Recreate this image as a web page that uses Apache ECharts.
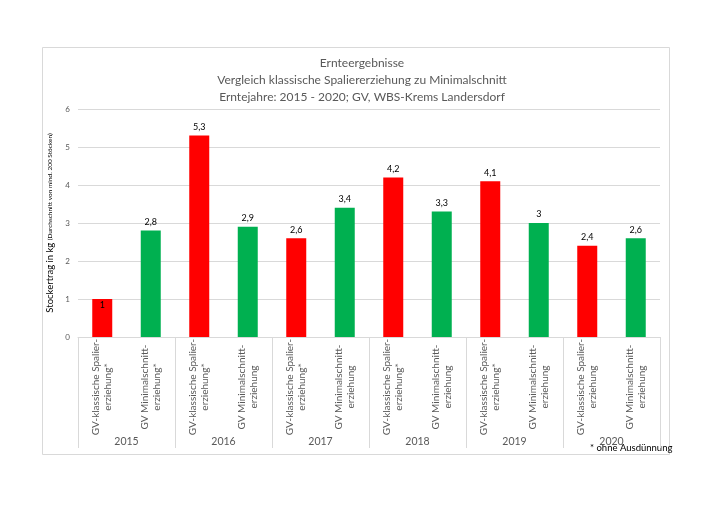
<!DOCTYPE html>
<html>
<head>
<meta charset="utf-8">
<script src="https://cdn.jsdelivr.net/npm/echarts@6/dist/echarts.min.js"></script>
<style>html,body{margin:0;padding:0;background:#fff;}#c{width:721px;height:510px;}</style>
</head>
<body>
<div id="c"></div>
<script>
const years = ['2015', '2016', '2017', '2018', '2019', '2020'];
const classicLabels = [
  'GV-klassische Spalier-\nerziehung*',
  'GV-klassische Spalier-\nerziehung*',
  'GV-klassische Spalier-\nerziehung*',
  'GV-klassische Spalier-\nerziehung*',
  'GV-klassische Spalier-\nerziehung*',
  'GV-klassische Spalier-\nerziehung'
];
const minimalLabels = [
  'GV Minimalschnitt-\nerziehung*',
  'GV Minimalschnitt-\nerziehung',
  'GV Minimalschnitt-\nerziehung',
  'GV Minimalschnitt-\nerziehung',
  'GV Minimalschnitt-\nerziehung',
  'GV Minimalschnitt-\nerziehung'
];
const classicValues = [1, 5.3, 2.6, 4.2, 4.1, 2.4];
const minimalValues = [2.8, 2.9, 3.4, 3.3, 3, 2.6];
const yTicks = [0, 1, 2, 3, 4, 5, 6];

const FONT = 'Lato, "Open Sans", sans-serif';
const categories = [];
const barData = [];
years.forEach((y, i) => {
  categories.push(classicLabels[i]);
  barData.push({ value: classicValues[i], itemStyle: { color: '#FF0000' },
    label: classicValues[i] < 1.5 ? { position: 'insideTop', distance: 2 } : {} });
  categories.push(minimalLabels[i]);
  barData.push({ value: minimalValues[i], itemStyle: { color: '#00B050' } });
});

const chart = echarts.init(document.getElementById('c'), null, { renderer: 'canvas' });
chart.setOption({
  backgroundColor: '#fff',
  animation: false,
  title: {
    text: 'Ernteergebnisse\nVergleich klassische Spaliererziehung zu Minimalschnitt\nErntejahre: 2015 - 2020; GV, WBS-Krems Landersdorf',
    left: 357, top: 50, textAlign: 'center',
    textStyle: { fontFamily: FONT, fontSize: 12, fontWeight: 'normal', color: '#595959', lineHeight: 17 }
  },
  graphic: [
    { type: 'rect', shape: { x: 42.5, y: 47.5, width: 627, height: 407 },
      style: { fill: 'none', stroke: '#d9d9d9', lineWidth: 1 }, silent: true },
    { type: 'text', left: 590, top: 443,
      style: { text: '* ohne Ausdünnung', fontFamily: FONT, fontSize: 9.5, fill: '#000' } }
  ],
  grid: { left: 78, right: 61, top: 109, bottom: 173, containLabel: false },
  xAxis: [
    {
      type: 'category', data: categories, position: 'bottom',
      axisLine: { lineStyle: { color: '#d9d9d9' } },
      axisTick: { show: false },
      axisLabel: { interval: 0, rotate: 90, align: 'center', margin: 50,
        fontFamily: FONT, fontSize: 10, color: '#595959', lineHeight: 12 }
    },
    {
      type: 'category', data: years, position: 'bottom', gridIndex: 0,
      axisLine: { show: false },
      axisTick: { show: true, length: 111, lineStyle: { color: '#d9d9d9' } },
      axisLabel: { interval: 0, margin: 99, fontFamily: FONT, fontSize: 10.5, color: '#595959' }
    }
  ],
  yAxis: {
    type: 'value', min: yTicks[0], max: yTicks[yTicks.length - 1], interval: 1,
    axisLine: { show: false }, axisTick: { show: false },
    axisLabel: { fontFamily: FONT, fontSize: 8, color: '#595959', margin: 8 },
    splitLine: { lineStyle: { color: '#d9d9d9' } },
    name: '{a|Stockertrag in kg }{b|(Durchschnitt von mind. 200 Stöcken)}',
    nameLocation: 'middle', nameGap: 18,
    nameTextStyle: {
      rich: {
        a: { fontFamily: FONT, fontSize: 9.5, color: '#000' },
        b: { fontFamily: FONT, fontSize: 6.5, color: '#000' }
      }
    }
  },
  series: [{
    type: 'bar', xAxisIndex: 0, data: barData, barWidth: 20,
    label: { show: true, position: 'top', distance: 4, fontFamily: FONT, fontSize: 9, color: '#000',
      formatter: p => String(p.value).replace('.', ',') }
  }]
});
</script>
</body>
</html>
